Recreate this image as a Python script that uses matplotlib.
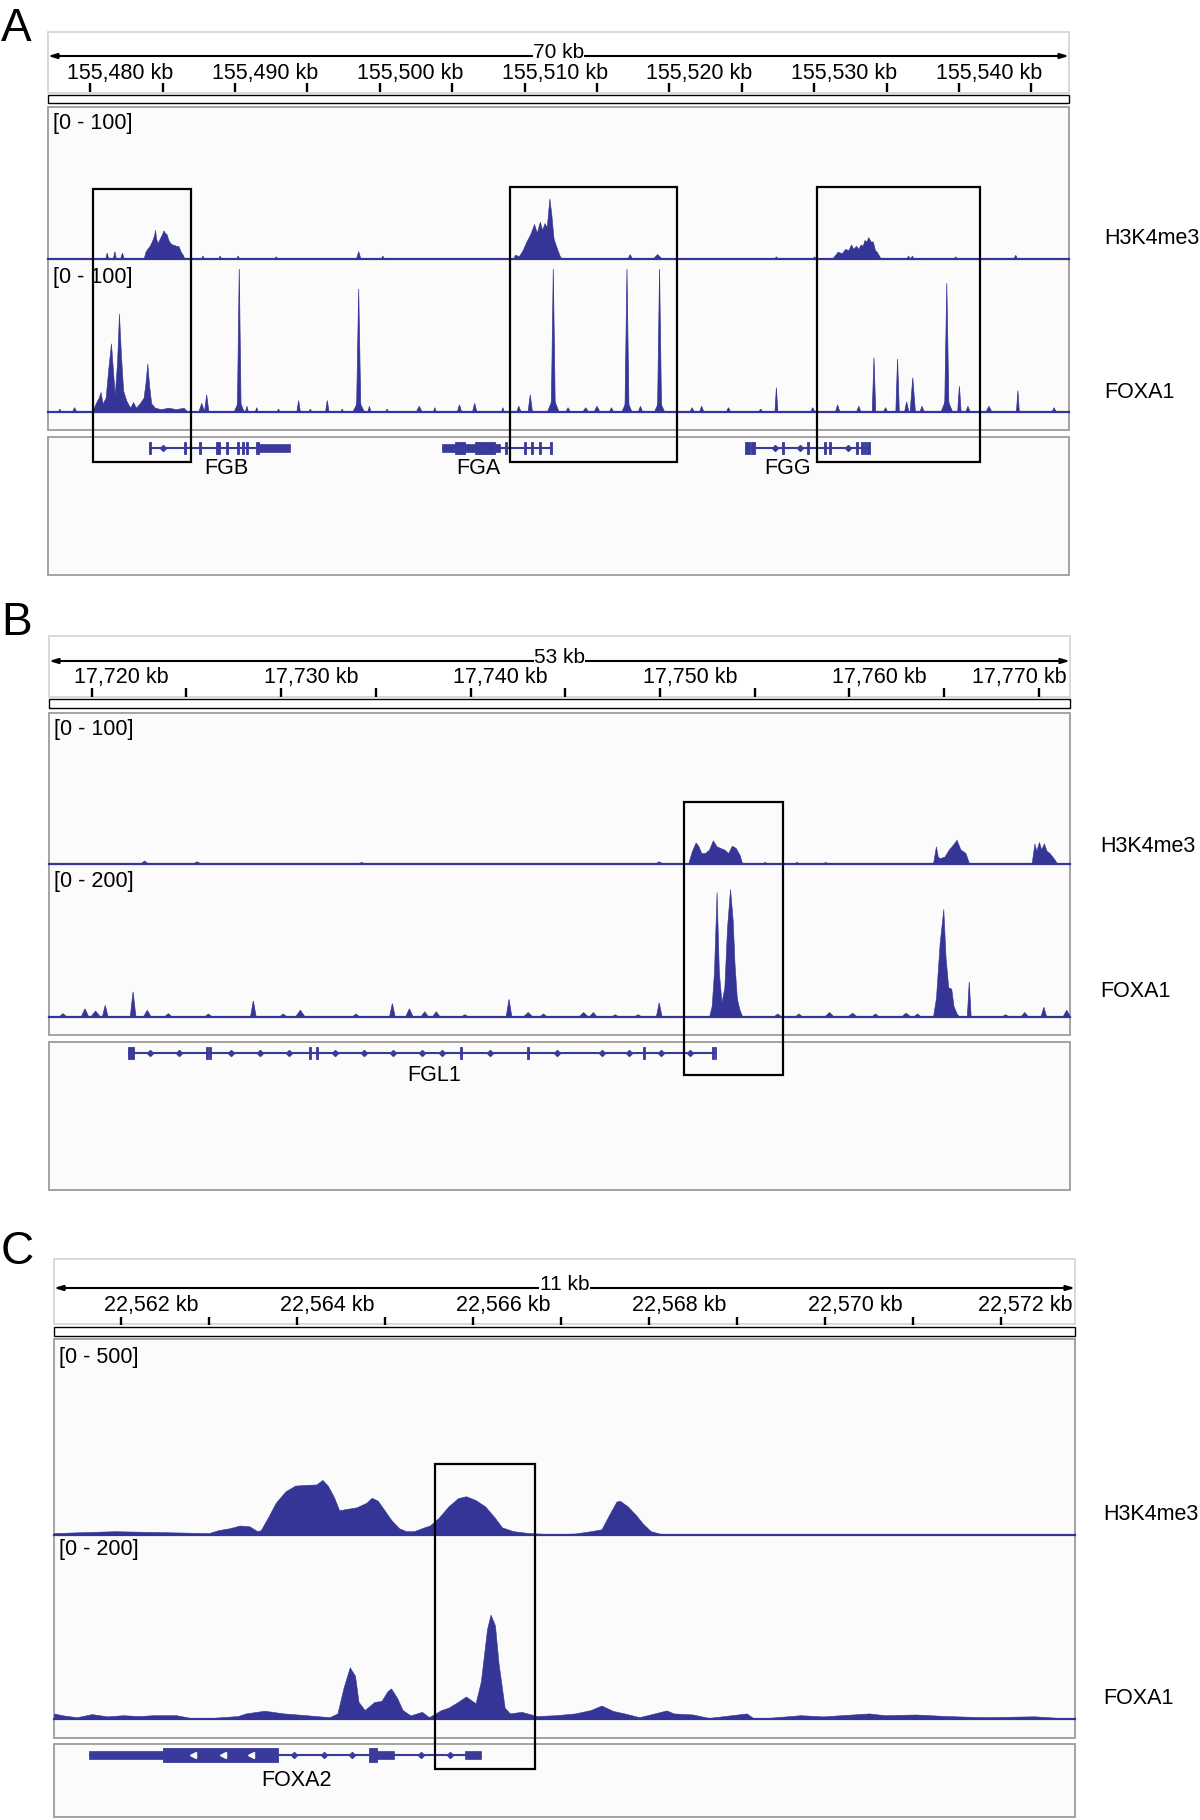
import matplotlib
matplotlib.use('Agg')
import matplotlib.pyplot as plt
from matplotlib.patches import Rectangle
from matplotlib import transforms

plt.rcParams['font.family'] = ['Liberation Sans', 'DejaVu Sans']

SIGNAL = '#353597'
GENE = '#3a3a9c'

# ---------------- panel A : FGB / FGA / FGG ----------------
A_REGION = (155477.08, 155547.60)
A_TICKS = list(range(155480, 155546, 5))
A_LABELS = list(range(155480, 155541, 10))
A_RANGES = ['[0 - 100]', '[0 - 100]']
A_MAX = [100, 100]

A_H3_PROFILES = [
    [(155483.68, 0), (155483.81, 5), (155483.94, 7), (155484.10, 9), (155484.25, 12), (155484.40, 16),
     (155484.47, 20), (155484.55, 14), (155484.65, 11), (155484.80, 14), (155484.95, 17), (155485.05, 19.6),
     (155485.15, 18), (155485.27, 17), (155485.40, 13), (155485.52, 11), (155485.66, 10), (155485.80, 9.6),
     (155485.95, 9), (155486.10, 8.7), (155486.25, 5), (155486.40, 2.7), (155486.51, 0)],
    [(155509.20, 0), (155509.33, 3), (155509.60, 2), (155509.86, 6), (155510.12, 12), (155510.39, 17),
     (155510.65, 24), (155510.84, 18), (155511.05, 25.6), (155511.21, 20), (155511.37, 24.6), (155511.53, 22),
     (155511.71, 41.5), (155511.84, 31), (155512.00, 14), (155512.24, 7), (155512.43, 2), (155512.58, 0)],
    [(155531.22, 0), (155531.62, 5), (155531.90, 4), (155532.15, 7), (155532.35, 6), (155532.55, 10),
     (155532.70, 7), (155532.89, 9), (155533.05, 7), (155533.21, 10), (155533.35, 9), (155533.47, 13),
     (155533.60, 12), (155533.74, 15), (155533.90, 12), (155534.05, 12), (155534.20, 6), (155534.32, 5),
     (155534.61, 0)],
]
A_H3_SPIKES = [
    (155481.17, 4, 0.1), (155481.70, 5, 0.1), (155482.22, 4, 0.12), (155487.78, 2, 0.1), (155488.97, 2, 0.1),
    (155490.21, 2, 0.1), (155492.85, 1.5, 0.1), (155498.54, 5, 0.15), (155500.21, 2, 0.1),
    (155517.29, 3, 0.15), (155519.19, 3, 0.3), (155527.39, 1.5, 0.1), (155530.03, 1.5, 0.1),
    (155536.52, 2, 0.1), (155536.78, 2, 0.1), (155539.77, 1.5, 0.1), (155543.92, 2.5, 0.12),
]
A_FOXA1_PROFILES = [
    [(155480.11, 0), (155480.37, 6), (155480.58, 10), (155480.71, 14), (155480.85, 6), (155481.06, 10),
     (155481.24, 30), (155481.43, 48), (155481.56, 30), (155481.69, 12), (155481.85, 35), (155481.98, 69),
     (155482.12, 40), (155482.27, 15), (155482.49, 8), (155482.75, 3), (155482.96, 7), (155483.15, 3),
     (155483.41, 6), (155483.68, 10), (155483.81, 20), (155483.94, 34), (155484.07, 18), (155484.21, 6),
     (155484.47, 3), (155484.87, 2), (155485.40, 3), (155485.92, 2), (155486.45, 3), (155486.72, 0)],
]
A_FOXA1_SPIKES = [
    (155477.90, 2, 0.1), (155478.92, 3, 0.15), (155487.70, 6, 0.2), (155488.04, 12, 0.15),
    (155490.29, 100, 0.13), (155490.29, 8, 0.35), (155490.82, 4, 0.1), (155491.50, 3, 0.1),
    (155493.00, 2, 0.1), (155494.39, 8, 0.12), (155495.20, 2, 0.1), (155496.37, 8, 0.12),
    (155497.40, 2, 0.1), (155498.54, 86, 0.15), (155498.54, 8, 0.4), (155499.28, 4, 0.1),
    (155500.50, 2, 0.1), (155502.72, 4, 0.2), (155503.80, 3, 0.1), (155505.50, 5, 0.15),
    (155506.55, 6, 0.15), (155508.50, 3, 0.1), (155509.60, 4, 0.15), (155510.39, 12, 0.15),
    (155511.98, 100, 0.14), (155511.98, 10, 0.4), (155513.00, 3, 0.15), (155514.22, 3, 0.2),
    (155515.00, 4, 0.2), (155516.00, 3, 0.15), (155517.07, 100, 0.14), (155517.07, 8, 0.35),
    (155518.00, 4, 0.15), (155519.32, 100, 0.14), (155519.32, 8, 0.35), (155521.57, 3, 0.15),
    (155522.23, 4, 0.15), (155524.08, 3, 0.15), (155526.31, 2, 0.15), (155527.39, 17, 0.1),
    (155529.90, 3, 0.15), (155531.62, 5, 0.15), (155533.08, 4, 0.15), (155534.13, 38, 0.12),
    (155534.93, 3, 0.15), (155535.76, 37, 0.12), (155536.39, 7, 0.15), (155536.81, 24, 0.18),
    (155537.45, 4, 0.15), (155539.16, 90, 0.15), (155539.16, 10, 0.4), (155540.03, 18, 0.12),
    (155540.62, 4, 0.15), (155542.07, 4, 0.2), (155544.07, 15, 0.1), (155546.57, 3, 0.15),
]
A_GENES = [
    dict(name='FGB', span=(155484.06, 155493.80), label=155489.38,
         thick=[(155484.06, 155484.20), (155486.48, 155486.62), (155487.50, 155487.66), (155488.70, 155488.94),
                (155489.38, 155489.52), (155490.14, 155490.28), (155490.48, 155490.62), (155490.76, 155490.90),
                (155491.45, 155491.65)],
         utr=[(155491.65, 155493.80)], marks=[155485.02], chevrons=[]),
    dict(name='FGA', span=(155504.29, 155511.89), label=155506.80,
         thick=[(155505.19, 155505.88), (155506.57, 155507.95), (155508.66, 155508.80), (155509.97, 155510.11),
                (155510.45, 155510.59), (155511.00, 155511.14), (155511.75, 155511.89)],
         utr=[(155504.29, 155505.19), (155505.88, 155506.57), (155507.95, 155508.30)], marks=[], chevrons=[]),
    dict(name='FGG', span=(155525.24, 155533.88), label=155528.18,
         thick=[(155525.24, 155525.59), (155525.66, 155525.93), (155527.80, 155527.93), (155529.52, 155529.66),
                (155530.69, 155530.83), (155531.04, 155531.18), (155532.91, 155533.05), (155533.25, 155533.39),
                (155533.46, 155533.60), (155533.67, 155533.88)],
         utr=[], marks=[155527.30, 155529.03, 155532.35], chevrons=[]),
]
A_BOXES = [(155480.19, 155486.96, 189), (155509.00, 155520.54, 187), (155530.22, 155541.42, 187)]

# ---------------- panel B : FGL1 ----------------
B_REGION = (17717.74, 17771.65)
B_TICKS = list(range(17720, 17771, 5))
B_LABELS = list(range(17720, 17771, 10))
B_RANGES = ['[0 - 100]', '[0 - 200]']
B_MAX = [100, 200]

B_H3_PROFILES = [
    [(17751.48, 0), (17751.68, 8.6), (17751.88, 14.7), (17752.04, 12), (17752.18, 7.5), (17752.38, 7.5),
     (17752.59, 9.8), (17752.79, 16.1), (17752.99, 12), (17753.19, 10.9), (17753.40, 9.8), (17753.60, 7.5),
     (17753.80, 12.5), (17754.00, 10.9), (17754.20, 6.3), (17754.35, 0)],
    [(17764.41, 0), (17764.57, 12), (17764.67, 5), (17764.77, 4), (17765.02, 5), (17765.26, 10),
     (17765.52, 14), (17765.66, 16.5), (17765.86, 10), (17766.13, 7.5), (17766.33, 0)],
    [(17769.62, 0), (17769.77, 14), (17769.87, 9), (17770.01, 15), (17770.13, 10), (17770.27, 14),
     (17770.41, 9), (17770.57, 7.5), (17770.84, 3), (17770.98, 0)],
]
B_H3_SPIKES = [
    (17722.79, 2, 0.2), (17725.56, 1.5, 0.2), (17734.25, 1, 0.2), (17749.96, 1.5, 0.2),
    (17755.56, 1, 0.15), (17757.24, 1, 0.15), (17758.75, 1, 0.15),
]
B_FOXA1_PROFILES = [
    [(17752.59, 0), (17752.73, 15), (17752.85, 60), (17752.99, 168), (17753.11, 60), (17753.25, 20),
     (17753.40, 40), (17753.54, 120), (17753.70, 172), (17753.84, 130), (17753.94, 70), (17754.06, 25),
     (17754.20, 10), (17754.35, 0)],
    [(17764.41, 0), (17764.57, 25), (17764.77, 100), (17764.96, 145), (17765.08, 80), (17765.22, 40),
     (17765.38, 38), (17765.50, 15), (17765.66, 5), (17765.82, 0)],
]
B_FOXA1_SPIKES = [
    (17718.48, 4.5, 0.2), (17719.64, 11, 0.2), (17720.20, 8, 0.25), (17720.71, 15.7, 0.15),
    (17722.18, 33.6, 0.15), (17722.93, 9, 0.2), (17724.04, 4.5, 0.2), (17726.16, 4, 0.2),
    (17728.53, 21.5, 0.15), (17730.11, 4, 0.2), (17731.01, 9, 0.25), (17733.95, 4, 0.2),
    (17735.87, 18, 0.15), (17736.77, 11, 0.2), (17737.58, 7, 0.2), (17738.19, 7, 0.2),
    (17739.70, 3, 0.2), (17742.03, 23.7, 0.15), (17743.04, 6, 0.25), (17743.85, 4, 0.2),
    (17745.97, 6, 0.25), (17746.48, 6, 0.2), (17747.64, 3, 0.2), (17748.85, 3, 0.2),
    (17749.96, 19, 0.15), (17756.22, 4, 0.2), (17757.34, 4, 0.2), (17758.95, 6, 0.25),
    (17760.17, 5, 0.25), (17761.38, 4, 0.2), (17763.00, 5, 0.25), (17763.60, 4, 0.2),
    (17766.33, 47, 0.1), (17768.25, 3, 0.2), (17769.26, 6, 0.2), (17770.27, 13, 0.15),
    (17771.48, 9, 0.2),
]
B_GENES = [
    dict(name='FGL1', span=(17721.91, 17752.96), label=17738.07,
         thick=[(17721.91, 17722.23), (17726.02, 17726.14), (17726.20, 17726.32), (17731.46, 17731.58),
                (17731.83, 17731.95), (17739.43, 17739.55), (17742.97, 17743.09), (17749.09, 17749.21),
                (17752.76, 17752.86), (17752.88, 17752.96)],
         utr=[],
         marks=[17723.07, 17724.60, 17727.35, 17728.88, 17730.41, 17732.84, 17734.37, 17735.90, 17737.43,
                17738.49, 17741.02, 17744.56, 17746.94, 17748.36, 17750.05, 17751.58],
         chevrons=[]),
]
B_BOXES = [(17751.28, 17756.51, 802)]

# ---------------- panel C : FOXA2 ----------------
C_REGION = (22561.24, 22572.84)
C_TICKS = list(range(22562, 22573, 1))
C_LABELS = list(range(22562, 22573, 2))
C_RANGES = ['[0 - 500]', '[0 - 200]']
C_MAX = [500, 200]

C_H3_PROFILES = [
    [(22561.24, 5), (22561.50, 7), (22561.93, 10), (22562.37, 8), (22563.00, 5), (22563.11, 13),
     (22563.24, 18), (22563.35, 25), (22563.46, 23), (22563.55, 10), (22563.59, 13), (22563.68, 50),
     (22563.76, 85), (22563.87, 115), (22563.98, 130), (22564.11, 132), (22564.22, 133), (22564.29, 145),
     (22564.35, 130), (22564.42, 100), (22564.48, 65), (22564.55, 68), (22564.68, 73), (22564.79, 85),
     (22564.85, 98), (22564.92, 90), (22564.98, 70), (22565.07, 40), (22565.16, 18), (22565.24, 10),
     (22565.33, 10), (22565.42, 18), (22565.51, 25), (22565.61, 45), (22565.72, 75), (22565.83, 97),
     (22565.92, 102), (22566.03, 92), (22566.14, 75), (22566.25, 45), (22566.33, 20), (22566.46, 10),
     (22566.64, 5), (22566.94, 2), (22567.16, 4), (22567.34, 10), (22567.46, 15), (22567.54, 50),
     (22567.63, 88), (22567.67, 90), (22567.76, 75), (22567.85, 53), (22567.93, 30), (22568.02, 10),
     (22568.15, 2), (22568.20, 0), (22572.84, 0)],
]
C_H3_SPIKES = []
C_FOXA1_PROFILES = [
    [(22561.24, 6.2), (22561.33, 4.2), (22561.50, 2), (22561.67, 5.4), (22561.85, 2.9), (22562.02, 4.2),
     (22562.20, 3.3), (22562.37, 4.2), (22562.63, 4.2), (22562.81, 0.8), (22563.00, 1), (22563.33, 3.3),
     (22563.42, 6.2), (22563.63, 9.2), (22563.85, 6.2), (22564.11, 4.2), (22564.37, 2), (22564.46, 6.2),
     (22564.53, 35), (22564.60, 57.5), (22564.66, 48), (22564.70, 19), (22564.77, 10), (22564.88, 19),
     (22564.96, 20), (22565.03, 31), (22565.07, 34), (22565.14, 23), (22565.20, 10), (22565.29, 4),
     (22565.42, 8), (22565.50, 2), (22565.64, 10), (22565.72, 12.5), (22565.83, 19), (22565.92, 25),
     (22566.03, 17.5), (22566.09, 42), (22566.16, 100), (22566.20, 116), (22566.25, 104), (22566.29, 62.5),
     (22566.36, 12.5), (22566.42, 6.2), (22566.55, 8), (22566.73, 3.3), (22566.94, 4.2), (22567.16, 6.2),
     (22567.34, 10), (22567.46, 15), (22567.59, 9), (22567.72, 6.2), (22567.89, 2), (22568.20, 9.5),
     (22568.28, 6.2), (22568.50, 5), (22568.68, 1.2), (22569.11, 6.2), (22569.20, 0), (22569.72, 4.2),
     (22569.98, 2.9), (22570.50, 6.2), (22570.68, 4.2), (22571.03, 5), (22571.38, 3.3), (22571.81, 2),
     (22572.38, 3), (22572.84, 0)],
]
C_FOXA1_SPIKES = []
C_GENES = [
    dict(name='FOXA2', span=(22561.64, 22566.09), label=22564.00,
         thick=[(22562.48, 22563.79), (22564.82, 22564.91)],
         utr=[(22561.64, 22562.48), (22564.91, 22565.10), (22565.91, 22566.09)],
         marks=[22563.97, 22564.31, 22564.63, 22565.41, 22565.74],
         chevrons=[22562.82, 22563.16, 22563.48]),
]
C_BOXES = [(22565.57, 22566.71, 1464)]

TRACK_NAMES = ['H3K4me3', 'FOXA1']

# ---------------- layout (pixels) ----------------
LAYOUT_A = dict(letter='A', letter_y=41, x0=48, x1=1069, top=28, bot=582, ruler=(32, 93), bar=(95, 103),
                data=(107, 430), gene=(437, 575), arrow_y=56, label_y=73, tick=(83, 92),
                tracks=[(113, 259), (269, 412)], range_y=[123, 277], name_x=1104, name_y=[238, 393],
                gene_y=448, gene_label_y=468, thick_h=12, utr_h=8, box_bot=462)
LAYOUT_B = dict(letter='B', letter_y=635, x0=49, x1=1070, top=632, bot=1195, ruler=(636, 697), bar=(699, 708),
                data=(713, 1035), gene=(1042, 1190), arrow_y=661, label_y=678, tick=(688, 697),
                tracks=[(717, 864), (868, 1017)], range_y=[730, 882], name_x=1100, name_y=[846, 992],
                gene_y=1053, gene_label_y=1076, thick_h=12, utr_h=8, box_bot=1075)
LAYOUT_C = dict(letter='C', letter_y=1264, x0=54, x1=1075, top=1255, bot=1820, ruler=(1259, 1324),
                bar=(1327, 1336), data=(1339, 1738), gene=(1744, 1817), arrow_y=1288, label_y=1305,
                tick=(1317, 1325), tracks=[(1345, 1535), (1539, 1719)], range_y=[1358, 1550], name_x=1103,
                name_y=[1514, 1699], gene_y=1755, gene_label_y=1781, thick_h=14, utr_h=8, box_bot=1769)

W, H = 1200, 1820
fig = plt.figure(figsize=(W / 100, H / 100), dpi=100)


def add_ax(x0, y0, x1, y1, z):
    ax = fig.add_axes([x0 / W, 1 - y1 / H, (x1 - x0) / W, (y1 - y0) / H], zorder=z)
    ax.axis('off')
    return ax


def draw_track(ax, profiles, spikes):
    for prof in profiles:
        xs, ys = zip(*prof)
        ax.fill_between(xs, 0, ys, color=SIGNAL, lw=0.4)
    for c, h, w in spikes:
        ax.fill([c - w, c, c + w], [0, h, 0], color=SIGNAL, lw=0.5)
    ax.axhline(0, color=SIGNAL, lw=1.6, clip_on=False)


def draw_panel(L, region, ticks, labels, ranges, maxes, tracks, genes, boxes):
    x0, x1 = L['x0'], L['x1']
    span = region[1] - region[0]
    fr = add_ax(x0, L['top'], x1, L['bot'], 0)
    fr.set_xlim(*region)
    fr.set_ylim(L['bot'], L['top'])

    fig.text(1 / W, 1 - L['letter_y'] / H, L['letter'], fontsize=33, va='baseline', ha='left')

    # ruler
    r0, r1 = L['ruler']
    fr.add_patch(Rectangle((region[0], r0), span, r1 - r0, fc='white', ec='#d4d4da', lw=1.3, clip_on=False))
    ay = L['arrow_y']
    fr.annotate('', xy=(region[1], ay), xytext=(region[0], ay), annotation_clip=False,
                arrowprops=dict(arrowstyle='<|-|>,head_length=0.5,head_width=0.15', color='black',
                                lw=1.5, shrinkA=0, shrinkB=0))
    fr.text(region[0] + span / 2, ay - 3, f'{int(span)} kb', ha='center', va='center', fontsize=15,
            bbox=dict(fc='white', ec='none', pad=0.3))
    fr.vlines(ticks, L['tick'][0], L['tick'][1], color='black', lw=1.7)
    shifted = transforms.offset_copy(fr.transData, fig=fig, x=30, y=0, units='dots')
    edge = transforms.offset_copy(fr.transData, fig=fig, x=-3, y=0, units='dots')
    for v in labels:
        px = x0 + (v - region[0]) / span * (x1 - x0)
        if px + 30 + 50 > x1:
            fr.text(region[1], L['label_y'], f'{v:,} kb', transform=edge, ha='right', va='center', fontsize=15.5)
        else:
            fr.text(v, L['label_y'], f'{v:,} kb', transform=shifted, ha='center', va='center', fontsize=15.5)
    b0, b1 = L['bar']
    fr.add_patch(Rectangle((region[0], b0), span, b1 - b0, fc='white', ec='black', lw=1.0, clip_on=False))

    # data and gene panels
    for p0, p1 in (L['data'], L['gene']):
        fr.add_patch(Rectangle((region[0], p0), span, p1 - p0, fc='#fbfbfb', ec='#9c9c9c', lw=1.3,
                               clip_on=False))
    inset = transforms.offset_copy(fr.transData, fig=fig, x=5, y=0, units='dots')
    for txt, y in zip(ranges, L['range_y']):
        fr.text(region[0], y, txt, transform=inset, ha='left', va='center', fontsize=15.5)
    for name, y in zip(TRACK_NAMES, L['name_y']):
        fig.text(L['name_x'] / W, 1 - y / H, name, ha='left', va='center', fontsize=15.5)

    # signal tracks
    for (t0, t1), vmax, (profiles, spikes) in zip(L['tracks'], maxes, tracks):
        ax = add_ax(x0, t0, x1, t1, 1)
        ax.set_xlim(*region)
        ax.set_ylim(0, vmax)
        draw_track(ax, profiles, spikes)

    # genes
    gy = L['gene_y']
    for g in genes:
        fr.hlines(gy, g['span'][0], g['span'][1], color=GENE, lw=1.5)
        for s, e in g['utr']:
            fr.add_patch(Rectangle((s, gy - L['utr_h'] / 2), e - s, L['utr_h'], fc=GENE, ec=GENE, lw=0.5))
        for s, e in g['thick']:
            fr.add_patch(Rectangle((s, gy - L['thick_h'] / 2), e - s, L['thick_h'], fc=GENE, ec=GENE, lw=0.6))
        if g['marks']:
            fr.plot(g['marks'], [gy] * len(g['marks']), 'D', ms=3, color=GENE)
        if g['chevrons']:
            fr.plot(g['chevrons'], [gy] * len(g['chevrons']), '<', ms=4, color='white', mec='white')
        fr.text(g['label'], L['gene_label_y'], g['name'], ha='center', va='center', fontsize=15.5)

    # highlight boxes on top
    top = add_ax(x0, L['top'], x1, L['bot'], 3)
    top.set_xlim(*region)
    top.set_ylim(L['bot'], L['top'])
    for s, e, y0 in boxes:
        top.add_patch(Rectangle((s, y0), e - s, L['box_bot'] - y0, fill=False, ec='black', lw=1.6,
                                clip_on=False))


draw_panel(LAYOUT_A, A_REGION, A_TICKS, A_LABELS, A_RANGES, A_MAX,
           [(A_H3_PROFILES, A_H3_SPIKES), (A_FOXA1_PROFILES, A_FOXA1_SPIKES)], A_GENES, A_BOXES)
draw_panel(LAYOUT_B, B_REGION, B_TICKS, B_LABELS, B_RANGES, B_MAX,
           [(B_H3_PROFILES, B_H3_SPIKES), (B_FOXA1_PROFILES, B_FOXA1_SPIKES)], B_GENES, B_BOXES)
draw_panel(LAYOUT_C, C_REGION, C_TICKS, C_LABELS, C_RANGES, C_MAX,
           [(C_H3_PROFILES, C_H3_SPIKES), (C_FOXA1_PROFILES, C_FOXA1_SPIKES)], C_GENES, C_BOXES)

fig.savefig('out.png', dpi=100, facecolor='white')
